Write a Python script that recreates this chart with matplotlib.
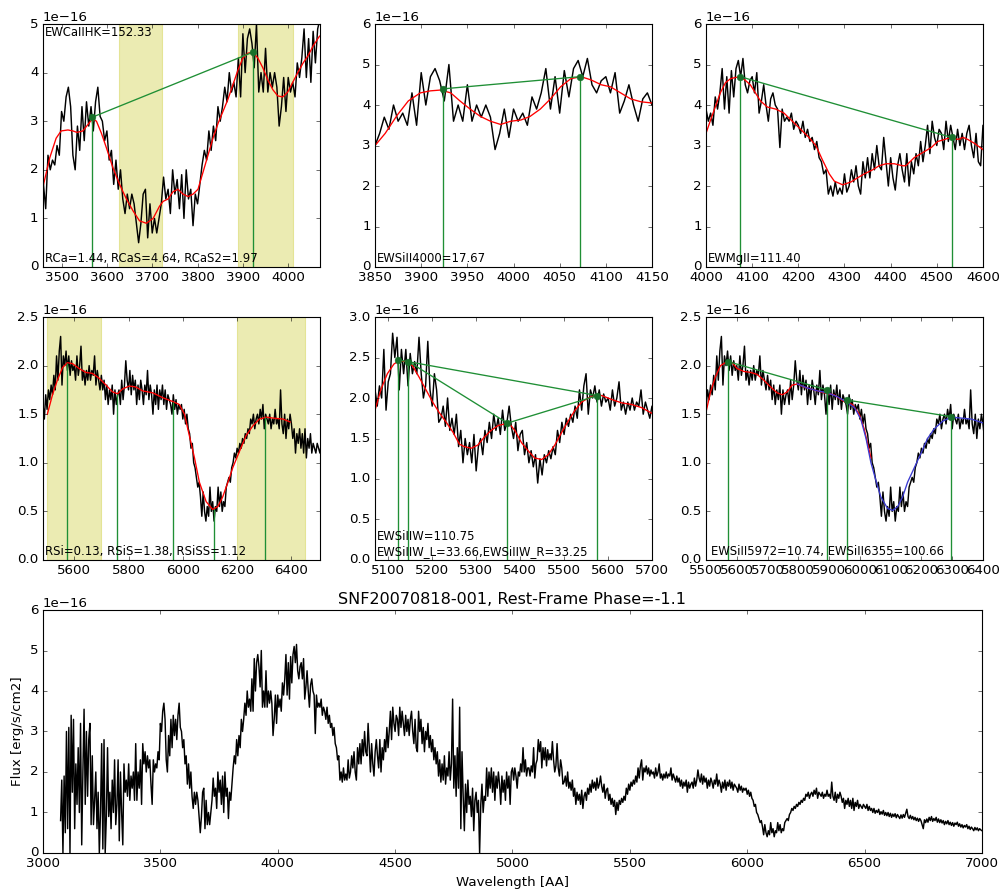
import matplotlib
matplotlib.use('Agg')
import matplotlib.pyplot as plt
from matplotlib.ticker import MultipleLocator
import numpy as np

plt.style.use('classic')
plt.rcParams['font.family'] = ['DejaVu Sans']

# ---------- spectrum: flux in 1e-16 erg/s/cm2, one value every 5 AA from 3075 AA ----------
wave_start = 3075.0
wave_step = 5.0

flux_3075 = [0.8, 1.8, 0.0, 1.9, 0.5, 3.0, 0.6, 3.1, 0.0, 3.4,
             1.5, 3.3, 0.6, 2.2, 1.2, 2.6, 1.0, 3.2, 0.2, 2.0,
             3.55, 1.2, 3.0, 1.4, 2.8, 3.2, 0.7, 2.4, 0.7, 1.3,
             2.0, 0.6, 1.5, 0.0, 1.0, 2.7, 0.1, 2.8, 0.0, 0.9,
             2.6, 0.9, 1.5, 0.6, 1.8, 1.0, 2.3, 0.7, 1.2, 2.3,
             0.3, 2.0, 1.0, 0.2, 2.2, 1.5, 1.8, 1.4, 2.2, 1.3,
             1.9, 1.6, 2.0, 1.3, 2.7, 1.3, 2.0, 1.6, 2.3, 1.2,
             2.7, 2.2, 2.5, 2.0, 2.4, 2.1, 2.3]
flux_3460 = [1.7, 1.2, 2.3, 2.0, 2.2, 2.1, 2.5, 2.3, 3.2, 3.0,
             3.5, 3.7, 3.3, 2.3, 2.0, 2.9, 2.4, 3.3, 2.6, 3.4,
             2.9, 3.3, 2.8, 3.4, 3.7, 3.1, 3.0, 2.6, 2.8, 2.2,
             2.4, 1.7, 2.2, 1.6, 2.0, 1.4, 1.1, 1.5, 1.2, 1.5,
             1.3, 0.9, 0.5, 0.9, 1.5, 1.6, 0.6, 1.3, 0.7, 1.0,
             0.7, 1.0, 1.3, 1.85, 1.4, 1.6, 1.1, 2.0, 1.5, 1.8,
             1.2, 1.9, 1.0, 2.0, 1.4, 1.6, 0.85, 1.5, 1.3, 1.7,
             2.1, 2.4, 2.2, 2.8, 2.4, 2.9, 2.6, 3.3]
flux_3850 = [3.0, 3.3, 3.7, 3.4, 4.0, 3.6, 3.8, 3.5, 4.3, 3.5,
             4.8, 4.0, 4.7, 4.9, 4.6, 4.1, 5.0, 3.6, 4.0, 3.6,
             4.5, 3.6, 4.0, 3.7, 4.0, 3.7, 2.9, 3.3, 3.9, 3.2,
             3.9, 3.6, 3.8, 3.5, 4.2, 3.9, 4.3, 4.9, 3.9, 4.7,
             3.8, 4.85, 4.2, 4.9, 5.1, 4.7, 5.15, 4.5, 4.3, 4.6,
             4.7, 4.3, 4.8, 3.8, 4.1, 4.5, 4.0, 3.6, 4.15, 4.3,
             4.0]
flux_4155 = [3.9, 2.95, 3.9, 3.6, 3.7, 3.6, 3.8, 3.4, 3.6, 3.5,
             3.3, 3.6, 3.2, 3.4, 3.1, 3.2, 2.9, 3.1, 2.7, 2.6,
             2.3, 2.4, 1.8, 2.0, 1.75, 2.1, 1.8, 1.95, 1.8, 2.3,
             1.85, 2.0, 2.4, 2.1, 2.5, 2.0, 1.8, 2.6, 2.2, 2.7,
             2.2, 2.8, 2.4, 3.0, 2.5, 2.4, 3.2, 2.6, 2.0, 2.7,
             2.2, 1.9, 2.5, 2.8, 2.4, 2.1, 2.8, 2.0, 2.6, 2.3,
             2.8, 2.5, 3.1, 2.6, 3.0, 3.5, 2.8, 3.6, 3.2, 3.0,
             3.4, 3.3, 2.9, 3.6, 3.1, 3.5, 3.2, 2.9, 3.4, 3.0,
             3.3, 2.9, 3.3, 3.5, 3.0, 2.7, 3.3, 2.6, 2.5, 3.5]
flux_4605 = [3.0, 3.3, 2.7, 3.1, 2.5, 3.0, 2.8, 3.2, 2.6, 2.9,
             2.5, 2.8, 2.3, 2.6, 2.2, 2.5, 1.9, 2.3, 1.75, 2.2,
             1.8, 2.4, 1.7, 2.1, 1.9, 2.5, 1.8, 2.2, 3.8, 1.6,
             2.4, 1.4, 2.6, 1.6, 3.6, 0.6, 2.5, 1.4, 0.55, 1.7,
             1.0, 1.8, 1.2, 1.4, 0.9, 1.6, 0.55, 1.3, 1.5, 1.0,
             1.3, 0.0, 1.2, 1.7, 1.0, 1.4, 1.3, 2.1, 1.4, 2.0,
             1.6, 2.1, 1.5, 2.0, 1.3, 1.9, 1.6, 2.0, 1.7, 1.2,
             1.9, 1.5, 1.8, 1.3, 2.0, 1.6, 1.9, 1.2, 2.0, 2.1,
             1.8, 2.1, 1.9, 1.6, 2.0, 1.9, 2.2, 2.0, 2.6, 2.0,
             2.3, 1.9, 2.1]
flux_5070 = [2.1, 1.9, 2.15, 2.0, 2.6, 1.85, 2.2, 2.3, 2.8, 2.5,
             2.75, 2.1, 2.6, 2.3, 2.6, 2.15, 2.55, 2.3, 2.45, 2.3,
             2.75, 2.3, 2.0, 2.15, 2.7, 2.1, 1.9, 2.3, 2.1, 1.7,
             1.75, 1.9, 1.65, 2.0, 1.6, 1.75, 1.55, 1.8, 1.4, 1.6,
             1.2, 1.5, 1.3, 1.45, 1.2, 1.55, 1.1, 1.4, 1.5, 1.3,
             1.6, 1.45, 1.7, 1.5, 1.8, 1.6, 1.75, 1.55, 1.85, 1.6,
             1.7, 1.9, 1.65, 1.5, 1.7, 1.35, 1.55, 1.6, 1.3, 1.45,
             1.2, 1.35, 1.15, 1.3, 0.95, 1.25, 1.05, 1.3, 1.2, 1.35,
             1.25, 1.4, 1.3, 1.6, 1.45, 1.7]
flux_5500 = [1.55, 1.75, 1.65, 1.8, 1.7, 1.9, 1.75, 2.1, 1.85, 2.15,
             2.3, 1.8, 2.1, 2.0, 2.15, 1.95, 2.1, 1.9, 2.05, 1.95,
             2.0, 1.85, 2.1, 1.9, 2.0, 2.2, 1.85, 1.95, 1.8, 1.95,
             1.85, 2.0, 1.85, 1.95, 1.9, 2.1, 1.8, 1.95, 1.85, 1.75,
             1.9, 1.75, 1.85, 1.65, 1.8, 1.6, 1.75, 1.65, 1.8, 1.5,
             1.75, 1.6, 1.7, 1.75, 1.6, 1.85, 1.65, 1.8, 2.05, 1.85,
             1.75, 1.95, 1.7, 1.9, 1.75, 1.85, 1.6, 1.8, 1.65, 1.85,
             1.75, 1.6, 1.8, 1.7, 1.95, 1.65, 1.8, 1.7, 1.5, 1.75,
             1.6, 1.8, 1.55, 1.75, 1.65, 1.8, 1.6, 1.75, 1.55, 1.7,
             1.65, 1.6, 1.5, 1.7, 1.55, 1.65, 1.5, 1.6, 1.55, 1.6,
             1.45, 1.55, 1.4, 1.5, 1.35, 1.3, 1.15, 1.2, 1.0, 0.95,
             0.85, 0.75, 0.8, 0.65, 0.45, 0.7, 0.5, 0.4, 0.55, 0.45,
             0.75, 0.5, 0.6, 0.4, 0.55, 0.5, 0.75, 0.55, 0.7, 0.5,
             0.6, 0.55, 0.75, 0.8, 0.85, 0.8, 0.95, 1.0, 1.1, 1.05,
             1.15, 1.1, 1.2, 1.15, 1.25, 1.2, 1.3, 1.25, 1.35, 1.3,
             1.45, 1.4, 1.5, 1.35, 1.45, 1.5, 1.4, 1.55, 1.45, 1.6,
             1.35, 1.5, 1.45, 1.4, 1.5, 1.35, 1.45, 1.4, 1.55, 1.4,
             1.45, 1.35, 1.75, 1.4, 1.3, 1.5, 1.25, 1.45, 1.35, 1.5,
             1.4]
flux_6405 = [1.25, 1.35, 1.1, 1.3, 1.2, 1.35, 1.15, 1.3, 1.1, 1.35,
             1.05, 1.25, 1.15, 1.3, 1.1, 1.2, 1.15, 1.1, 1.2, 1.15]
flux_6505 = [1.1, 1.2, 1.05, 1.15, 1.05, 1.1, 1.0, 1.1, 0.98, 1.05,
             1.0, 1.08, 0.95, 1.02, 0.96, 1.05, 0.93, 1.0, 0.92, 1.0,
             0.9, 0.98, 0.88, 0.96, 0.9, 0.97, 0.87, 0.95, 0.9, 0.85,
             0.94, 0.86, 0.95, 0.88, 0.98, 1.08, 0.9, 0.85, 0.93, 0.84,
             0.9, 0.82, 0.88, 0.8, 0.86, 0.78, 0.85, 0.8, 0.7, 0.6,
             0.82, 0.75, 0.84, 0.76, 0.88, 0.8, 0.9, 0.78, 0.85, 0.8,
             0.88, 0.76, 0.84, 0.75, 0.82, 0.74, 0.8, 0.7, 0.78, 0.72,
             0.8, 0.7, 0.76, 0.68, 0.75, 0.66, 0.74, 0.7, 0.76, 0.66,
             0.72, 0.64, 0.7, 0.62, 0.68, 0.64, 0.7, 0.6, 0.66, 0.58,
             0.64, 0.6, 0.55, 0.63, 0.57, 0.62, 0.55, 0.6, 0.57, 0.55]

flux = np.concatenate([flux_3075, flux_3460, flux_3850, flux_4155, flux_4605,
                       flux_5070, flux_5500, flux_6405, flux_6505]) * 1e-16
wave = wave_start + wave_step * np.arange(len(flux))

# ---------- smoothed fits (red / blue) ----------
red1_w = [3459, 3474, 3488, 3499, 3514, 3525, 3534, 3547, 3558, 3568, 3577, 3588, 3599, 3613,
          3628, 3643, 3658, 3672, 3687, 3702, 3716, 3724, 3735, 3746, 3757, 3768, 3779, 3790,
          3801, 3812, 3823, 3834, 3845, 3856, 3867, 3878, 3889, 3900, 3911, 3922, 3933, 3944,
          3955, 3966, 3977, 3988, 3999, 4010, 4021, 4033, 4044, 4055, 4069]
red1_f = [1.65, 2.25, 2.65, 2.8, 2.82, 2.8, 2.77, 2.8, 2.93, 3.05, 3.0, 2.75, 2.45, 2.05,
          1.7, 1.4, 1.15, 0.95, 0.9, 1.0, 1.25, 1.35, 1.4, 1.55, 1.6, 1.5, 1.45, 1.5,
          1.6, 1.95, 2.3, 2.65, 2.95, 3.2, 3.45, 3.75, 4.05, 4.3, 4.4, 4.42, 4.3, 4.1,
          3.85, 3.65, 3.52, 3.5, 3.6, 3.8, 4.0, 4.2, 4.35, 4.55, 4.75]
red2_w = [3850, 3861, 3874, 3886, 3899, 3910, 3921, 3932, 3942, 3953, 3964, 3975, 3986, 3997,
          4008, 4018, 4029, 4040, 4051, 4062, 4073, 4084, 4095, 4105, 4116, 4127, 4138, 4150]
red2_f = [3.0, 3.3, 3.75, 4.1, 4.3, 4.35, 4.37, 4.3, 4.1, 3.9, 3.72, 3.6, 3.52, 3.6,
          3.63, 3.72, 3.9, 4.15, 4.45, 4.65, 4.7, 4.62, 4.5, 4.45, 4.3, 4.15, 4.08, 4.05]
red3_w = [4000, 4009, 4020, 4031, 4042, 4053, 4064, 4075, 4086, 4096, 4107, 4118, 4133, 4151,
          4169, 4187, 4205, 4223, 4238, 4252, 4267, 4278, 4296, 4314, 4328, 4343, 4361, 4375,
          4390, 4408, 4426, 4433, 4451, 4473, 4488, 4502, 4517, 4531, 4546, 4557, 4567, 4582, 4600]
red3_f = [3.3, 3.6, 3.95, 4.3, 4.55, 4.65, 4.68, 4.7, 4.6, 4.5, 4.3, 4.1, 3.95, 3.9,
          3.8, 3.6, 3.4, 3.2, 3.0, 2.65, 2.3, 2.12, 2.03, 2.1, 2.2, 2.3, 2.4, 2.5,
          2.55, 2.55, 2.5, 2.5, 2.7, 2.85, 2.95, 3.1, 3.15, 3.2, 3.15, 3.2, 3.15, 3.05, 2.9]
red4_w = [5501, 5520, 5538, 5557, 5575, 5594, 5618, 5643, 5667, 5692, 5717, 5741, 5760, 5778,
          5803, 5827, 5852, 5889, 5926, 5963, 5987, 6006, 6024, 6043, 6061, 6086, 6110, 6129,
          6147, 6166, 6184, 6209, 6233, 6258, 6282, 6307, 6332, 6369, 6395]
red4_f = [1.5, 1.7, 1.85, 1.98, 2.03, 2.02, 1.97, 1.93, 1.92, 1.87, 1.8, 1.73, 1.71, 1.76,
          1.79, 1.78, 1.74, 1.72, 1.67, 1.63, 1.6, 1.5, 1.28, 1.05, 0.8, 0.6, 0.52, 0.55,
          0.65, 0.8, 0.95, 1.12, 1.28, 1.38, 1.45, 1.47, 1.46, 1.45, 1.42]
red5_w = [5070, 5083, 5098, 5113, 5125, 5140, 5155, 5171, 5186, 5201, 5216, 5232, 5247, 5262,
          5273, 5289, 5304, 5319, 5334, 5350, 5365, 5376, 5388, 5403, 5418, 5433, 5449, 5464,
          5479, 5494, 5510, 5525, 5540, 5555, 5570, 5586, 5609, 5631, 5654, 5677, 5700]
red5_f = [1.85, 2.1, 2.3, 2.42, 2.46, 2.45, 2.4, 2.25, 2.1, 1.95, 1.82, 1.7, 1.58, 1.43,
          1.4, 1.38, 1.42, 1.52, 1.6, 1.66, 1.68, 1.68, 1.6, 1.45, 1.35, 1.26, 1.24, 1.3,
          1.42, 1.57, 1.72, 1.85, 1.95, 2.0, 2.03, 2.03, 1.98, 1.94, 1.92, 1.88, 1.81]
red6_w = [5500, 5514, 5530, 5547, 5568, 5585, 5601, 5623, 5645, 5666, 5688, 5710, 5731, 5748,
          5764, 5780, 5797, 5818, 5851, 5884, 5916, 5949, 5976, 5998, 6014, 6025, 6036]
red6_f = [1.52, 1.72, 1.88, 2.0, 2.04, 2.03, 1.97, 1.94, 1.93, 1.91, 1.85, 1.78, 1.72, 1.7,
          1.73, 1.8, 1.81, 1.78, 1.75, 1.72, 1.7, 1.63, 1.6, 1.5, 1.35, 1.2, 1.05]
blue6_w = [5797, 5829, 5862, 5895, 5927, 5954, 5982, 6003, 6020, 6036, 6052, 6068, 6090,
           6107, 6123, 6139, 6155, 6177, 6199, 6220, 6242, 6270, 6297, 6329, 6362, 6400]
blue6_f = [1.81, 1.77, 1.74, 1.72, 1.68, 1.63, 1.57, 1.45, 1.25, 1.0, 0.82, 0.65, 0.53,
           0.51, 0.55, 0.65, 0.8, 0.95, 1.1, 1.25, 1.35, 1.43, 1.47, 1.46, 1.45, 1.41]

# ---------- feature points (green) ----------
p1_w, p1_f = [3567, 3922], [3.08, 4.42]
p2_w, p2_f = [3924, 4072], [4.4, 4.7]
p3_w, p3_f = [4074, 4532], [4.7, 3.2]
p4_w, p4_f = [5575, 5756, 5963, 6113, 6301], [2.03, 1.71, 1.63, 0.52, 1.47]
p5_w, p5_f = [5123, 5146, 5371, 5576], [2.47, 2.45, 1.69, 2.03]
p6_w, p6_f = [5573, 5893, 5959, 6296], [2.04, 1.75, 1.645, 1.475]
p5_links = [(0, 3), (1, 2), (2, 3)]
p6_links = [(0, 1), (2, 3)]

p1_spans = [(3627, 3722), (3889, 4011)]
p4_spans = [(5500, 5700), (6200, 6450)]

title = 'SNF20070818-001, Rest-Frame Phase=-1.1'

GREEN = '#1f8f35'
LW = 1.3

# ---------- figure ----------
fig = plt.figure(figsize=(1002 / 80.0, 890 / 80.0), dpi=80, facecolor='w')
lefts = [0.0429, 0.3743, 0.7046]
w, h = 0.2764, 0.2730
ax1 = fig.add_axes([lefts[0], 0.700, w, h])
ax2 = fig.add_axes([lefts[1], 0.700, w, h])
ax3 = fig.add_axes([lefts[2], 0.700, w, h])
ax4 = fig.add_axes([lefts[0], 0.3708, w, h])
ax5 = fig.add_axes([lefts[1], 0.3708, w, h])
ax6 = fig.add_axes([lefts[2], 0.3708, w, h])
ax7 = fig.add_axes([lefts[0], 0.0416, 0.9371, h])

E = 1e-16


def setup(ax, xlim, ylim, xstep, ystep):
    ax.set_xlim(*xlim)
    ax.set_ylim(ylim[0] * E, ylim[1] * E)
    ax.xaxis.set_major_locator(MultipleLocator(xstep))
    ax.yaxis.set_major_locator(MultipleLocator(ystep * E))


def features(ax, xs, ys, links, dots=True):
    ys = np.array(ys) * E
    ax.vlines(xs, 0, ys, colors=GREEN, lw=1.2)
    for i, j in links:
        ax.plot([xs[i], xs[j]], [ys[i], ys[j]], '-', color=GREEN, lw=1.2)
    if dots:
        ax.plot(xs, ys, 'o', color='#17702a', ms=6, mec='#17702a')


def note(ax, s, x=0.008, y=0.01, va='bottom'):
    ax.text(x, y, s, transform=ax.transAxes, fontsize=10.5, va=va, ha='left')


def spectrum(ax):
    ax.plot(wave, flux, 'k-', lw=LW)


for ax in [ax1, ax2, ax3, ax4, ax5, ax6, ax7]:
    ax.set_facecolor('w')

# panel 1 - CaII H&K
for a, b in p1_spans:
    ax1.axvspan(a, b, color='y', alpha=0.3)
spectrum(ax1)
ax1.plot(red1_w, np.array(red1_f) * E, 'r-', lw=1.2)
features(ax1, p1_w, p1_f, [(0, 1)])
setup(ax1, (3459, 4070), (0, 5), 100, 1)
note(ax1, 'EWCaIIHK=152.33', y=0.99, va='top')
note(ax1, 'RCa=1.44, RCaS=4.64, RCaS2=1.97')

# panel 2 - SiII 4000
spectrum(ax2)
ax2.plot(red2_w, np.array(red2_f) * E, 'r-', lw=1.2)
features(ax2, p2_w, p2_f, [(0, 1)])
setup(ax2, (3850, 4150), (0, 6), 50, 1)
note(ax2, 'EWSiII4000=17.67')

# panel 3 - MgII
spectrum(ax3)
ax3.plot(red3_w, np.array(red3_f) * E, 'r-', lw=1.2)
features(ax3, p3_w, p3_f, [(0, 1)])
setup(ax3, (4000, 4600), (0, 6), 100, 1)
note(ax3, 'EWMgII=111.40')

# panel 4 - Si ratios
for a, b in p4_spans:
    ax4.axvspan(a, b, color='y', alpha=0.3)
spectrum(ax4)
ax4.plot(red4_w, np.array(red4_f) * E, 'r-', lw=1.2)
features(ax4, p4_w, p4_f, [], dots=False)
setup(ax4, (5485, 6505), (0, 2.5), 200, 0.5)
note(ax4, 'RSi=0.13, RSiS=1.38, RSiSS=1.12')

# panel 5 - SiII W
spectrum(ax5)
ax5.plot(red5_w, np.array(red5_f) * E, 'r-', lw=1.2)
features(ax5, p5_w, p5_f, p5_links)
setup(ax5, (5070, 5700), (0, 3.0), 100, 0.5)
note(ax5, 'EWSiIIW=110.75\nEWSiIIW_L=33.66,EWSiIIW_R=33.25')

# panel 6 - SiII 5972 / 6355
spectrum(ax6)
ax6.plot(red6_w, np.array(red6_f) * E, 'r-', lw=1.2)
ax6.plot(blue6_w, np.array(blue6_f) * E, '-', color='#3a3ad0', lw=1.2)
features(ax6, p6_w, p6_f, p6_links)
setup(ax6, (5500, 6400), (0, 2.5), 100, 0.5)
note(ax6, 'EWSiII5972=10.74, EWSiII6355=100.66', x=0.018)

# full spectrum
spectrum(ax7)
setup(ax7, (3000, 7000), (0, 6), 500, 1)
ax7.set_title(title)
ax7.set_xlabel('Wavelength [AA]')
ax7.set_ylabel('Flux [erg/s/cm2]')

fig.savefig('out.png', dpi=80, facecolor='w')
